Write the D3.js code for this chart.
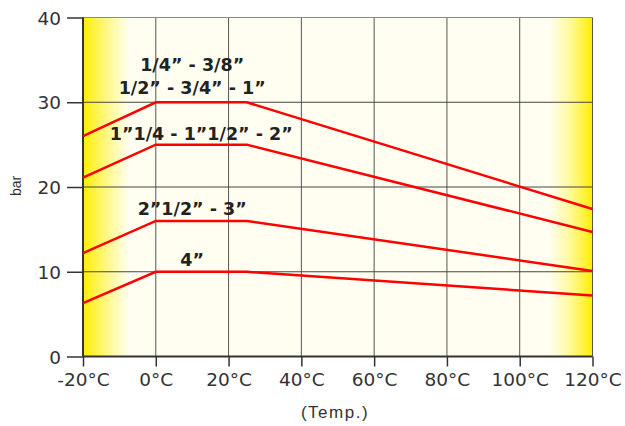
<!DOCTYPE html>
<html><head><meta charset="utf-8">
<script src="https://cdn.jsdelivr.net/npm/d3@7"></script>
<style>body{margin:0;background:#fff}svg{display:block}</style>
</head><body>
<svg id="c" width="625" height="426"></svg>
<script>
const temps = [-20, 0, 25, 120];
const series1 = [26.0, 30, 30, 17.4];
const series2 = [21.1, 25, 25, 14.7];
const series3 = [12.2, 16, 16, 10.1];
const series4 = [6.3, 10, 10, 7.2];
const seriesList = [series1, series2, series3, series4];
const labels = [
  {text: "1/4\u201D - 3/8\u201D", x: 10, y: 33.7},
  {text: "1/2\u201D - 3/4\u201D - 1\u201D", x: 10, y: 31.0},
  {text: "1\u201D1/4 - 1\u201D1/2\u201D - 2\u201D", x: 12.5, y: 25.5},
  {text: "2\u201D1/2\u201D - 3\u201D", x: 10, y: 16.7},
  {text: "4\u201D", x: 10, y: 10.7}
];
const xTicks = [-20, 0, 20, 40, 60, 80, 100, 120];
const yTicks = [0, 10, 20, 30, 40];

const svg = d3.select("#c");
const L = 83, R = 592.5, T = 17.5, B = 356.5;
const x = d3.scaleLinear().domain([-20, 120]).range([L, R]);
const y = d3.scaleLinear().domain([0, 40]).range([B, T]);

const defs = svg.append("defs");
const g = defs.append("linearGradient").attr("id", "bg").attr("x1", 0).attr("x2", 1);
const stops = [[0, "#ffee00"], [0.03, "#fff45a"], [0.06, "#fffaa8"], [0.09, "#fffef0"], [0.915, "#fffef0"], [0.95, "#fffaa8"], [0.975, "#fff45a"], [1, "#ffee00"]];
stops.forEach(s => g.append("stop").attr("offset", s[0]).attr("stop-color", s[1]));

svg.append("rect").attr("x", L).attr("y", T).attr("width", R - L).attr("height", B - T).attr("fill", "url(#bg)");

// grid
svg.append("g").selectAll("line").data(xTicks.slice(1)).join("line")
  .attr("x1", d => x(d)).attr("x2", d => x(d)).attr("y1", T).attr("y2", B)
  .attr("stroke", "#555").attr("stroke-width", 1);
svg.append("g").selectAll("line").data(yTicks.slice(1)).join("line")
  .attr("x1", L).attr("x2", R).attr("y1", d => y(d)).attr("y2", d => y(d))
  .attr("stroke", d => d === 40 ? "#888" : "#444").attr("stroke-width", 1);

// axes
const xAxis = d3.axisBottom(x).tickValues(xTicks).tickSize(10).tickPadding(6).tickFormat(d => d + "°C");
const yAxis = d3.axisLeft(y).tickValues(yTicks).tickSize(16).tickPadding(6).tickFormat(d3.format("d"));
const gx = svg.append("g").attr("transform", `translate(0,${B})`).call(xAxis);
const gy = svg.append("g").attr("transform", `translate(${L},0)`).call(yAxis);
[gx, gy].forEach(a => {
  a.select(".domain").attr("stroke", "#333").attr("stroke-width", 2);
  a.selectAll(".tick line").attr("stroke", "#333").attr("stroke-width", 1.5);
  a.selectAll("text").attr("fill", "#333").attr("font-family", "DejaVu Sans, sans-serif").attr("font-size", 18.5);
});
gx.select(".domain").attr("d", `M${L},0H${R}`);
gy.select(".domain").attr("d", `M0,${B}V${T}`);
gx.selectAll("text").attr("dy", "0.75em");
gy.selectAll("text").attr("dy", "0.36em");

// lines
const line = d3.line().x((d, i) => x(temps[i])).y(d => y(d));
svg.append("g").selectAll("path").data(seriesList).join("path")
  .attr("d", line).attr("fill", "none").attr("stroke", "#ff0000").attr("stroke-width", 2.5);

// labels
svg.append("g").selectAll("text").data(labels).join("text")
  .attr("x", d => x(d.x)).attr("y", d => y(d.y)).attr("text-anchor", "middle")
  .attr("font-family", "DejaVu Sans, sans-serif").attr("font-weight", "bold").attr("font-size", 17.5)
  .attr("fill", "#222").text(d => d.text);

svg.append("text").attr("transform", "translate(21,186) rotate(-90)").attr("text-anchor", "middle")
  .attr("font-family", "Liberation Sans, Arial, sans-serif").attr("font-size", 14).attr("fill", "#333").text("bar");
svg.append("text").attr("x", 335).attr("y", 418).attr("text-anchor", "middle")
  .attr("font-family", "Liberation Sans, Arial, sans-serif").attr("font-size", 17).attr("letter-spacing", 1.5).attr("fill", "#333").text("(Temp.)");
</script>
</body></html>
